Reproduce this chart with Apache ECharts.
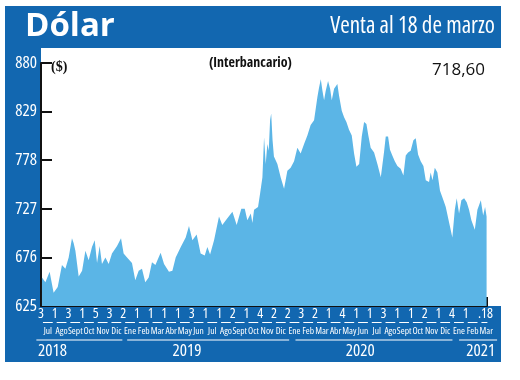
<!DOCTYPE html>
<html><head><meta charset="utf-8">
<script src="https://cdn.jsdelivr.net/npm/echarts@6/dist/echarts.min.js"></script>
<style>
html,body{margin:0;padding:0;background:#fff}
#wrap{position:relative;width:520px;height:380px;background:#fff}
#blue{position:absolute;left:5px;top:6px;width:496px;height:356px;background:#1267b0}
#white{position:absolute;left:41px;top:48px;width:460px;height:258px;background:#fff}
#c{position:absolute;left:0;top:0;width:520px;height:380px}
</style>
</head><body><div id="wrap"><div id="blue"></div><div id="white"></div><div id="c"></div></div>
<script>
// x position = months since 1 Jul 2018
const monthPos = [0.07,0.32,0.63,0.92,1.22,1.53,1.78,2.02,2.26,2.38,2.51,2.75,3.0,3.24,3.48,3.72,3.92,4.09,4.28,4.45,4.70,4.94,5.18,5.55,5.84,6.03,6.28,6.64,6.88,7.13,7.37,7.61,7.86,8.10,8.35,
8.49,8.73,8.98,9.34,9.59,9.83,10.2,10.56,10.80,11.05,11.36,11.65,11.95,12.14,12.34,12.63,12.99,13.23,13.60,13.97,14.28,14.62,14.87,15.06,15.31,15.43,15.55,15.84,15.99,16.16,16.28,16.40,16.52,16.62,16.72,16.80,16.90,
17.0,17.25,17.49,17.74,17.98,18.22,18.47,18.71,18.95,19.2,19.44,19.68,19.93,20.17,20.29,20.42,20.54,20.66,20.78,20.95,21.1,21.22,21.39,21.63,21.75,21.95,22.12,22.29,22.48,22.68,22.85,23.02,23.22,23.41,23.58,23.75,23.89,24.06,24.31,24.55,24.80,
25.04,25.16,25.33,25.47,25.64,25.82,26.01,26.25,26.45,26.62,26.79,26.98,27.18,27.35,27.52,27.71,27.91,28.08,28.32,28.44,28.57,28.74,28.93,29.12,29.37,29.54,29.78,30.02,30.20,30.34,30.51,30.68,30.88,31.07,31.24,31.41,31.66,31.85,32.10,32.27,32.41,32.52];
const values = [655,650,661,639,645,668,664,676,696,691,683,656,662,683,673,687,694,670,688,669,676,669,680,688,696,680,676,670,652,662,664,650,655,671,668,
666,681,669,661,662,676,687,697,709,694,700,680,678,687,679,694,719,710,717,724,710,727,727,715,722,712,726,729,743,760,802,774,795,788,820,827,799,
782,774,760,748,767,770,777,791,785,795,804,815,820,844,854,863,851,841,851,861,853,841,853,858,846,830,823,818,810,804,785,771,774,803,818,816,804,791,786,774,760,
787,803,803,789,783,777,772,769,762,783,786,788,799,801,784,777,772,757,755,765,757,770,765,746,736,729,713,697,726,738,722,736,738,734,726,715,705,726,736,720,729,719];
const monthNames = ['Jul','Ago','Sept','Oct','Nov','Dic','Ene','Feb','Mar','Abr','May','Jun','Jul','Ago','Sept','Oct','Nov','Dic','Ene','Feb','Mar','Abr','May','Jun','Jul','Ago','Sept','Oct','Nov','Dic','Ene','Feb','Mar'];
const dayLabels = ['3','1','3','1','5','3','2','1','1','1','1','3','1','1','2','1','4','2','2','3','2','1','4','1','1','3','1','1','2','1','4','1','.'];
const endLabel = '18';
const years = ['2018','2019','2020','2021'];
const yMin = 625, yMax = 880, yStep = 51;
const lastValue = '718,60';

// layout constants
const X_MAX = 32.55;
const GRID_L = 41, GRID_W = 446;
const PX_PER_MONTH = GRID_W / X_MAX;
const DASH = 9;
const yearTextPos = [0.84, 10.66, 23.3, 32.1];
const yearLinePos = [2.8, 12.2, 24.3, 31.9];
const yearLineW = [86, 162, 157, 38];
const COND = "'Open Sans','DejaVu Sans Condensed',sans-serif";

const seriesData = monthPos.map((p, i) => [p, values[i]]);
const monthStarts = monthNames.map((_, i) => i).concat([X_MAX]);
const monthCenters = monthNames.map((_, i) => i + 0.5);

const richYear = {};
yearLineW.forEach((w, i) => { richYear['l' + i] = {width: w, height: 1, lineHeight: 1, fontSize: 1, backgroundColor: '#ffffff'}; });

function baseX(extra) {
  return Object.assign({
    type: 'value', min: 0, max: X_MAX, position: 'bottom',
    axisLine: {show: false}, axisTick: {show: false}, splitLine: {show: false}, axisLabel: {show: false}
  }, extra);
}
function lab(extra) {
  return Object.assign({show: true, showMinLabel: true, showMaxLabel: true, hideOverlap: false, verticalAlign: 'middle'}, extra);
}

const chart = echarts.init(document.getElementById('c'), null, {renderer: 'canvas'});
chart.setOption({
  animation: false,
  backgroundColor: 'transparent',
  title: [
    {text: 'Dólar', left: 20, top: 5, textStyle: {color: '#fff', fontSize: 33, fontWeight: 'bold', fontFamily: "'Open Sans',sans-serif"}},
    {text: 'Venta al 18 de marzo', right: 20, top: 10, textStyle: {color: '#fff', fontSize: 23, fontStyle: 'condensed', fontWeight: 'normal', fontFamily: COND}},
    {text: '($)', left: 46, top: 55, textStyle: {color: '#111', fontSize: 14, fontWeight: 'bold', fontFamily: "'Liberation Serif',serif"}},
    {text: '(Interbancario)', left: 204, top: 51, textStyle: {color: '#111', fontSize: 14, fontStyle: 'condensed', fontWeight: 'bold', fontFamily: COND}},
    {text: lastValue, left: 427, top: 57, textStyle: {color: '#111', fontSize: 17, fontWeight: 'normal', fontFamily: "'Open Sans',sans-serif"}}
  ],
  grid: {left: GRID_L, width: GRID_W, top: 63, bottom: 74, containLabel: false},
  xAxis: [
    baseX({
      axisLine: {show: true, lineStyle: {color: '#111', width: 2}},
      axisTick: {show: true, inside: true, length: 9, customValues: [X_MAX], lineStyle: {color: '#111', width: 2}}
    }),
    baseX({
      axisLabel: lab({customValues: monthStarts, margin: 8, color: '#fff', fontSize: 14, fontStyle: 'condensed', fontFamily: COND,
        formatter: v => (v >= X_MAX - 0.01 ? endLabel : (dayLabels[Math.round(v)] || ''))})
    }),
    baseX({
      offset: 16,
      axisLine: {show: true, lineStyle: {color: '#ffffff', width: 1, type: [DASH, PX_PER_MONTH - DASH], dashOffset: PX_PER_MONTH - (PX_PER_MONTH - DASH) / 2}}
    }),
    baseX({
      axisLabel: lab({customValues: monthCenters, margin: 25, color: '#fff', fontSize: 9.5, fontStyle: 'condensed', fontFamily: COND,
        formatter: v => monthNames[Math.floor(v)] || ''})
    }),
    baseX({
      axisLabel: lab({customValues: yearLinePos, margin: 34,
        formatter: v => { const i = yearLinePos.indexOf(v); return i >= 0 ? '{l' + i + '| }' : ''; },
        rich: richYear})
    }),
    baseX({
      axisLabel: lab({customValues: yearTextPos, margin: 45, color: '#fff', fontSize: 17, fontStyle: 'condensed', fontFamily: COND,
        formatter: v => { const i = yearTextPos.indexOf(v); return i >= 0 ? years[i] : ''; }})
    })
  ],
  yAxis: {
    type: 'value', min: yMin, max: yMax, interval: yStep,
    axisLine: {show: true, lineStyle: {color: '#111', width: 2}},
    axisTick: {show: true, inside: true, length: 11, lineStyle: {color: '#111', width: 2}},
    splitLine: {show: false},
    axisLabel: {color: '#fff', fontSize: 17, margin: 4, fontStyle: 'condensed', fontFamily: COND}
  },
  series: [{
    type: 'line', xAxisIndex: 0, data: seriesData, showSymbol: false, symbol: 'none',
    lineStyle: {width: 0, color: '#5bb5e6'},
    areaStyle: {color: '#5bb5e6', opacity: 1},
    z: 1
  }]
});
</script></body></html>
